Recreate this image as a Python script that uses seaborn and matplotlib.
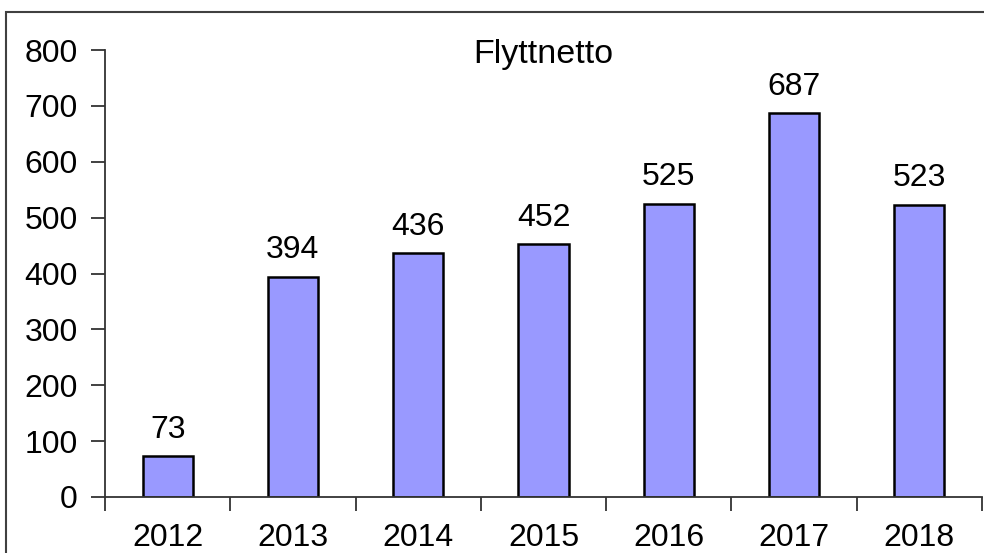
import matplotlib
matplotlib.use("Agg")
import matplotlib.pyplot as plt
from matplotlib.patches import Rectangle
from matplotlib.ticker import FixedLocator
import seaborn as sns
import pandas as pd

years = ["2012", "2013", "2014", "2015", "2016", "2017", "2018"]
values = [73, 394, 436, 452, 525, 687, 523]
title = "Flyttnetto"

sns.set_theme(style="white")
plt.rcParams["font.family"] = ["Liberation Sans", "DejaVu Sans"]

W, H = 984, 553
fig = plt.figure(figsize=(W / 100, H / 100), dpi=100)
ax = fig.add_axes([105 / W, 1 - 497 / H, (982 - 105) / W, (497 - 50) / H])

df = pd.DataFrame({"year": years, "value": values})
sns.barplot(data=df, x="year", y="value", ax=ax, width=0.4,
            color="#9999FF", saturation=1, edgecolor="black", linewidth=1.8)

FS = 23
for i, v in enumerate(values):
    ax.text(i, v + 33, str(v), ha="center", va="baseline", fontsize=FS, color="black")

ax.text(3, 777, title, ha="center", va="baseline", fontsize=24.5, color="black")

ax.set_ylim(0, 800)
ax.set_xlim(-0.5, len(years) - 0.5)
ax.set_yticks(range(0, 801, 100))
ax.tick_params(axis="y", labelsize=FS, length=10, width=1.3, color="#333333",
               left=True, pad=9.5, labelcolor="black")

# category boundaries carry the tick marks, labels sit at bar centres
ax.xaxis.set_major_locator(FixedLocator([i - 0.5 for i in range(len(years) + 1)]))
ax.xaxis.set_minor_locator(FixedLocator(list(range(len(years)))))
ax.set_xticklabels([""] * (len(years) + 1))
ax.set_xticklabels(years, minor=True)
ax.tick_params(axis="x", which="major", length=10, width=1.3, color="#333333", bottom=True)
ax.tick_params(axis="x", which="minor", length=0, labelsize=FS, pad=19, labelcolor="black")

ax.set_xlabel("")
ax.set_ylabel("")
for s in ["top", "right"]:
    ax.spines[s].set_visible(False)
for s in ["left", "bottom"]:
    ax.spines[s].set_color("#333333")
    ax.spines[s].set_linewidth(1.3)

# outer frame around the chart
fig.patches.append(Rectangle((6 / W, -0.5), 2, 0.5 + 1 - 12 / H, transform=fig.transFigure,
                             fill=False, edgecolor="#404040", linewidth=1.5))

fig.savefig("out.png", dpi=100)
